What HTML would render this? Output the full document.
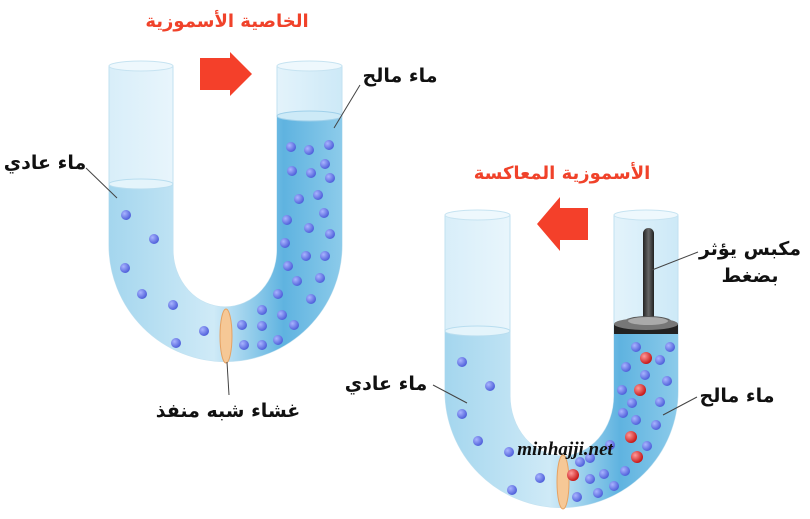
<!DOCTYPE html>
<html><head><meta charset="utf-8"><style>
body{margin:0;background:#fff}
svg{display:block}
.t{font-family:"DejaVu Sans",sans-serif;font-weight:bold;font-size:19px;fill:#111}
.r{font-family:"DejaVu Sans",sans-serif;font-weight:bold;font-size:18px;fill:#f0422a}
</style></head><body>
<svg width="810" height="519" viewBox="0 0 810 519">
<defs>
<linearGradient id="w2" x1="0" x2="1"><stop offset="0" stop-color="#a4d6ee"/><stop offset=".45" stop-color="#cfeaf7"/><stop offset=".75" stop-color="#5fb3e0"/><stop offset="1" stop-color="#8ccbea"/></linearGradient>
<linearGradient id="g" x1="0" x2="1"><stop offset="0" stop-color="#d8eef9"/><stop offset=".5" stop-color="#f5fbfe"/><stop offset="1" stop-color="#cde9f7"/></linearGradient>
<radialGradient id="b" cx=".35" cy=".35" r=".7"><stop offset="0" stop-color="#a9b4ff"/><stop offset="1" stop-color="#4a5bd8"/></radialGradient>
<radialGradient id="rd" cx=".35" cy=".35" r=".7"><stop offset="0" stop-color="#ff9a9a"/><stop offset="1" stop-color="#c41010"/></radialGradient>
<linearGradient id="rod" x1="0" x2="1"><stop offset="0" stop-color="#222"/><stop offset=".5" stop-color="#666"/><stop offset="1" stop-color="#222"/></linearGradient>
</defs>

<!-- Tube 1 -->
<path d="M109,66 L109,245 A116.5,116.5 0 0 0 342,245 L342,66 L277,66 L277,250 A52,57 0 0 1 173,250 L173,66 Z" fill="url(#g)" stroke="#c2e1f0" stroke-width="1"/>
<path d="M109,183 L109,245 A116.5,116.5 0 0 0 342,245 L342,115 L277,115 L277,250 A52,57 0 0 1 173,250 L173,183 Z" fill="url(#w2)"/>
<ellipse cx="141" cy="66" rx="32" ry="5" fill="#eef8fd" stroke="#c6e3f1"/>
<ellipse cx="309.5" cy="66" rx="32.5" ry="5" fill="#eef8fd" stroke="#c6e3f1"/>
<ellipse cx="141" cy="184" rx="32" ry="5" fill="#e4f4fb" stroke="#b8ddef"/>
<ellipse cx="309.5" cy="116" rx="32.5" ry="5" fill="#cdeaf7" stroke="#9fd0ea"/>
<ellipse cx="226" cy="336" rx="6" ry="27" fill="#f6c896" stroke="#e6a262"/>
<g fill="url(#b)">
<circle cx="126" cy="215" r="5"/><circle cx="154" cy="239" r="5"/><circle cx="125" cy="268" r="5"/><circle cx="142" cy="294" r="5"/><circle cx="173" cy="305" r="5"/><circle cx="204" cy="331" r="5"/><circle cx="176" cy="343" r="5"/>
<circle cx="291" cy="147" r="5"/><circle cx="309" cy="150" r="5"/><circle cx="329" cy="145" r="5"/><circle cx="292" cy="171" r="5"/><circle cx="311" cy="173" r="5"/><circle cx="325" cy="164" r="5"/><circle cx="330" cy="178" r="5"/><circle cx="299" cy="199" r="5"/><circle cx="318" cy="195" r="5"/><circle cx="324" cy="213" r="5"/><circle cx="287" cy="220" r="5"/><circle cx="309" cy="228" r="5"/><circle cx="330" cy="234" r="5"/><circle cx="285" cy="243" r="5"/><circle cx="306" cy="256" r="5"/><circle cx="325" cy="256" r="5"/><circle cx="288" cy="266" r="5"/><circle cx="297" cy="281" r="5"/><circle cx="320" cy="278" r="5"/><circle cx="278" cy="294" r="5"/><circle cx="311" cy="299" r="5"/><circle cx="262" cy="310" r="5"/><circle cx="282" cy="315" r="5"/><circle cx="294" cy="325" r="5"/><circle cx="242" cy="325" r="5"/><circle cx="262" cy="326" r="5"/><circle cx="244" cy="345" r="5"/><circle cx="262" cy="345" r="5"/><circle cx="278" cy="340" r="5"/>
</g>
<polygon points="200,58 230,58 230,52 252,74 230,96 230,90 200,90" fill="#f4402a"/>

<!-- Tube 2 -->
<path d="M445,215 L445,391 A116.5,116.5 0 0 0 678,391 L678,215 L614,215 L614,396 A52,60 0 0 1 510,396 L510,215 Z" fill="url(#g)" stroke="#c2e1f0"/>
<path d="M445,330 L445,391 A116.5,116.5 0 0 0 678,391 L678,330 L614,330 L614,396 A52,60 0 0 1 510,396 L510,330 Z" fill="url(#w2)"/>
<ellipse cx="477.5" cy="215" rx="32.5" ry="5" fill="#eef8fd" stroke="#c6e3f1"/>
<ellipse cx="646" cy="215" rx="32" ry="5" fill="#eef8fd" stroke="#c6e3f1"/>
<ellipse cx="477.5" cy="331" rx="32.5" ry="5" fill="#e4f4fb" stroke="#b8ddef"/>
<rect x="643" y="228" width="11" height="95" rx="5.5" fill="url(#rod)"/>
<ellipse cx="648" cy="322" rx="24" ry="6" fill="#555"/>
<rect x="614" y="324" width="64" height="10" fill="#222"/>
<ellipse cx="646" cy="324" rx="32" ry="6" fill="#777"/>
<ellipse cx="648" cy="321" rx="20" ry="4" fill="#aaa"/>
<ellipse cx="563" cy="482" rx="6" ry="27" fill="#f6c896" stroke="#e6a262"/>
<g fill="url(#b)">
<circle cx="462" cy="362" r="5"/><circle cx="490" cy="386" r="5"/><circle cx="462" cy="414" r="5"/><circle cx="478" cy="441" r="5"/><circle cx="509" cy="452" r="5"/><circle cx="540" cy="478" r="5"/><circle cx="512" cy="490" r="5"/>
<circle cx="636" cy="347" r="5"/><circle cx="670" cy="347" r="5"/><circle cx="660" cy="360" r="5"/><circle cx="626" cy="367" r="5"/><circle cx="645" cy="375" r="5"/><circle cx="667" cy="381" r="5"/><circle cx="622" cy="390" r="5"/><circle cx="632" cy="403" r="5"/><circle cx="660" cy="402" r="5"/><circle cx="623" cy="413" r="5"/><circle cx="636" cy="420" r="5"/><circle cx="656" cy="425" r="5"/><circle cx="610" cy="445" r="5"/><circle cx="647" cy="446" r="5"/><circle cx="590" cy="458" r="5"/><circle cx="590" cy="479" r="5"/><circle cx="604" cy="474" r="5"/><circle cx="625" cy="471" r="5"/><circle cx="577" cy="497" r="5"/><circle cx="598" cy="493" r="5"/><circle cx="614" cy="486" r="5"/><circle cx="580" cy="462" r="5"/>
</g>
<g fill="url(#rd)">
<circle cx="646" cy="358" r="6"/><circle cx="640" cy="390" r="6"/><circle cx="631" cy="437" r="6"/><circle cx="637" cy="457" r="6"/><circle cx="573" cy="475" r="6"/>
</g>
<polygon points="588,208 560,208 560,197 537,224 560,251 560,240 588,240" fill="#f4402a"/>

<!-- leader lines -->
<g stroke="#444" stroke-width="1">
<line x1="86" y1="168" x2="117" y2="198"/>
<line x1="360" y1="85" x2="334" y2="128"/>
<line x1="227" y1="362" x2="229" y2="395"/>
<line x1="698" y1="252" x2="652" y2="270"/>
<line x1="433" y1="385" x2="467" y2="403"/>
<line x1="697" y1="397" x2="663" y2="415"/>
</g>

<!-- labels -->
<text class="r" x="227" y="27" text-anchor="middle" direction="rtl">الخاصية الأسموزية</text>
<text class="r" x="562" y="179" text-anchor="middle" direction="rtl">الأسموزية المعاكسة</text>
<text class="t" x="400" y="82" text-anchor="middle" direction="rtl">ماء مالح</text>
<text class="t" x="45" y="169" text-anchor="middle" direction="rtl">ماء عادي</text>
<text class="t" x="228" y="417" text-anchor="middle" direction="rtl">غشاء شبه منفذ</text>
<text class="t" x="750" y="255" text-anchor="middle" direction="rtl">مكبس يؤثر</text>
<text class="t" x="750" y="282" text-anchor="middle" direction="rtl">بضغط</text>
<text class="t" x="386" y="390" text-anchor="middle" direction="rtl">ماء عادي</text>
<text class="t" x="737" y="402" text-anchor="middle" direction="rtl">ماء مالح</text>
<text x="565" y="455" text-anchor="middle" font-family="Liberation Serif,serif" font-style="italic" font-weight="bold" font-size="19" fill="#111">minhajji.net</text>
</svg>
</body></html>
